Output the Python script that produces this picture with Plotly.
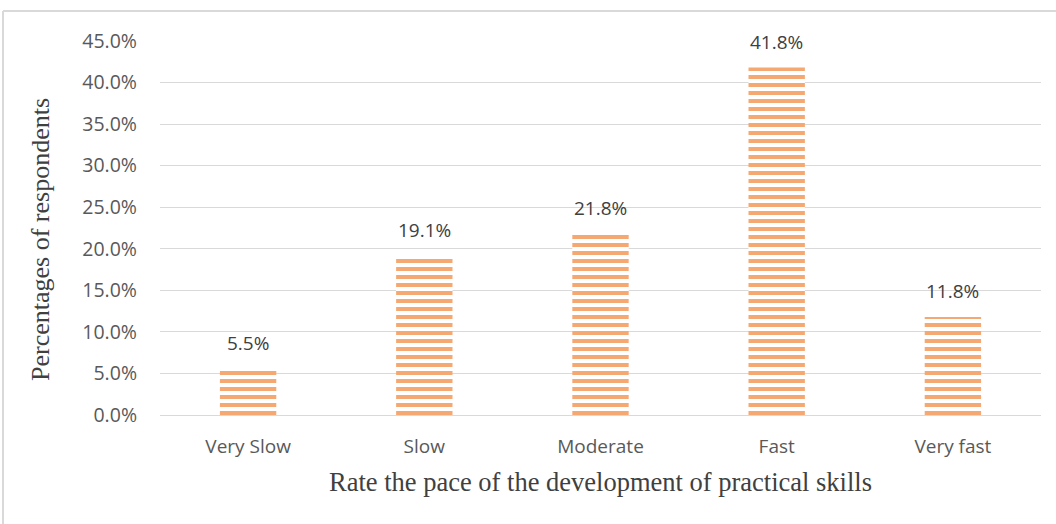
import plotly.graph_objects as go

categories = ["Very Slow", "Slow", "Moderate", "Fast", "Very fast"]
values = [5.5, 19.1, 21.8, 41.8, 11.8]
labels = ["5.5%", "19.1%", "21.8%", "41.8%", "11.8%"]
tick_vals = [0, 5, 10, 15, 20, 25, 30, 35, 40, 45]
tick_text = ["0.0%", "5.0%", "10.0%", "15.0%", "20.0%", "25.0%", "30.0%", "35.0%", "40.0%", "45.0%"]

W, H = 1056, 524
L, R, T, B = 160, 15, 41, 109
pw, ph = W - L - R, H - T - B

SANS = "Open Sans, sans-serif"
SERIF = "Liberation Serif, Times New Roman, serif"

fig = go.Figure(go.Bar(
    x=categories, y=values,
    width=0.32,
    marker=dict(color="white", line=dict(width=0),
                pattern=dict(shape="-", fgcolor="#F5A872", bgcolor="white",
                             size=8, solidity=0.5, fgopacity=1)),
))

for c, v, t in zip(categories, values, labels):
    fig.add_annotation(x=c, y=v, text=t, showarrow=False, yanchor="bottom", yshift=11,
                       font=dict(family=SANS, size=19, color="#404040"))

def px_x(p):
    return (p - L) / pw

def px_y(p):
    return (H - B - p) / ph

fig.add_annotation(xref="paper", yref="paper", x=px_x(40), y=px_y(240),
                   text="Percentages of respondents", textangle=-90, showarrow=False,
                   xanchor="center", yanchor="middle",
                   font=dict(family=SERIF, size=26, color="#404040"))

fig.update_layout(
    width=W, height=H,
    margin=dict(l=L, r=R, t=T, b=B),
    paper_bgcolor="white", plot_bgcolor="white",
    showlegend=False,
    xaxis=dict(
        tickfont=dict(family=SANS, size=19, color="#595959"),
        title=dict(text="Rate the pace of the development of practical skills",
                   font=dict(family=SERIF, size=26.5, color="#404040"),
                   standoff=14),
        showline=True, linecolor="#D9D9D9", linewidth=1, ticks="",
        ticklabelstandoff=14,
    ),
    yaxis=dict(
        range=[0, 45], tickvals=tick_vals, ticktext=tick_text,
        tickfont=dict(family=SANS, size=19.5, color="#595959"),
        showgrid=True, gridcolor="#D9D9D9", gridwidth=1, zeroline=False,
        ticks="", ticklabelstandoff=22,
    ),
    shapes=[
        dict(type="line", xref="paper", yref="paper", x0=px_x(3), x1=px_x(1056), y0=px_y(11), y1=px_y(11),
             line=dict(color="#D9D9D9", width=2)),
        dict(type="line", xref="paper", yref="paper", x0=px_x(3), x1=px_x(3), y0=px_y(11), y1=px_y(524),
             line=dict(color="#D9D9D9", width=2)),
    ],
)

fig.write_html("out.html")
